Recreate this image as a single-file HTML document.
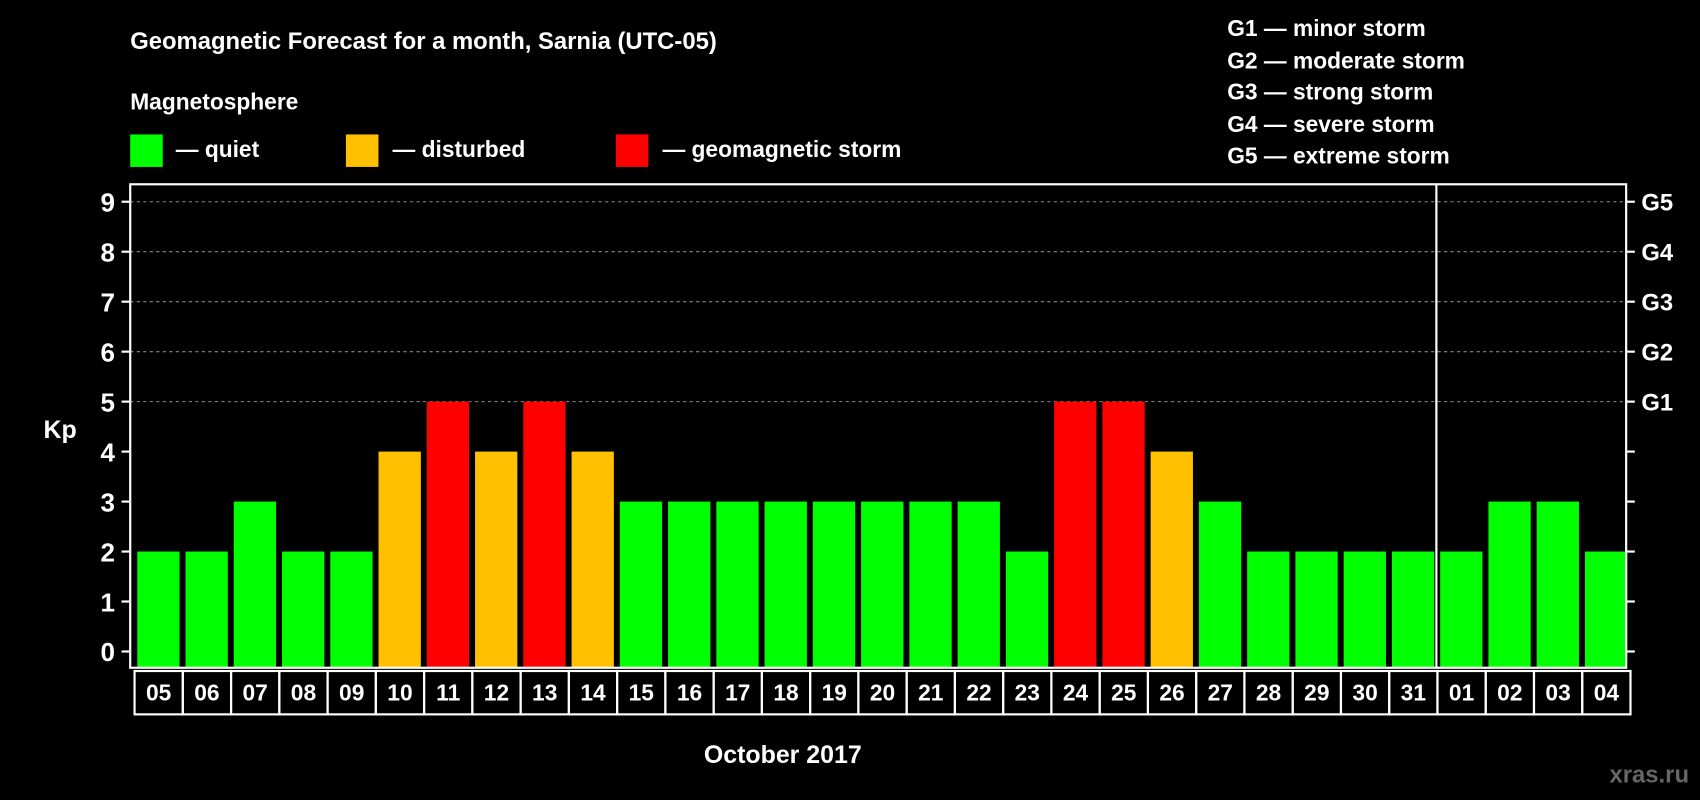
<!DOCTYPE html>
<html><head><meta charset="utf-8"><style>
html,body{margin:0;padding:0;background:#000;width:1700px;height:800px;overflow:hidden}
text{font-family:"Liberation Sans",Arial,sans-serif;font-weight:bold;fill:#fff}
</style></head><body>
<svg id="chart" width="1700" height="800" viewBox="0 0 1568 738" xmlns="http://www.w3.org/2000/svg">
<rect width="1568" height="738" fill="#000"/>
<text x="120" y="45" font-size="22">Geomagnetic Forecast for a month, Sarnia (UTC-05)</text>
<text x="120" y="101" font-size="21">Magnetosphere</text>
<g>
<rect x="120" y="124" width="30" height="30" fill="#00ff00"/>
<text x="162" y="145" font-size="21">— quiet</text>
<rect x="319" y="124" width="30" height="30" fill="#ffc000"/>
<text x="362" y="145" font-size="21">— disturbed</text>
<rect x="568" y="124" width="30" height="30" fill="#ff0000"/>
<text x="611" y="145" font-size="21">— geomagnetic storm</text>
</g>
<g font-size="21">
<text x="1132" y="33">G1 — minor storm</text>
<text x="1132" y="63">G2 — moderate storm</text>
<text x="1132" y="92">G3 — strong storm</text>
<text x="1132" y="122">G4 — severe storm</text>
<text x="1132" y="151">G5 — extreme storm</text>
</g>
<text x="40" y="404" font-size="23">Kp</text>
<text x="722" y="704" font-size="23" text-anchor="middle">October 2017</text>
<text x="1558" y="722" font-size="22" text-anchor="end" style="fill:#666">xras.ru</text>
<g id="grid"></g><g id="bars"></g><g id="axes"></g>
</svg>
<script>
const days=["05","06","07","08","09","10","11","12","13","14","15","16","17","18","19","20","21","22","23","24","25","26","27","28","29","30","31","01","02","03","04"];
const kp=[2,2,3,2,2,4,5,4,5,4,3,3,3,3,3,3,3,3,2,5,5,4,3,2,2,2,2,2,3,3,2];
const yTicks=[0,1,2,3,4,5,6,7,8,9];
const gLabels=["G1","G2","G3","G4","G5"];
const gLevels=[5,6,7,8,9];
const NS="http://www.w3.org/2000/svg";
const L=120,R=1500,T=170,B=616,Y0=601,UNIT=46.1;
const y=v=>Y0-v*UNIT;
const step=(R-L)/days.length;
const x=i=>L+i*step;
function mk(tag,attrs,parent){const e=document.createElementNS(NS,tag);for(const k in attrs)e.setAttribute(k,attrs[k]);parent.appendChild(e);return e;}
const grid=document.getElementById('grid'),bars=document.getElementById('bars'),axes=document.getElementById('axes');
gLevels.forEach((g,i)=>{
 const l=mk('line',{x1:L,x2:R,y1:y(g),y2:y(g),stroke:'#888','stroke-dasharray':'3,3','stroke-width':1},grid);
 
 
 const t=mk('text',{x:R+14,y:y(g)+8,'font-size':22},axes);t.textContent=gLabels[i];
 
 
});
function col(v){return v>=5?'#ff0000':(v>=4?'#ffc000':'#00ff00');}
kp.forEach((v,i)=>{
 const r=mk('rect',{x:x(i)+6.5,y:y(v),width:step-5.5,height:B-y(v),fill:col(v)},bars);
 
 
 const c=mk('rect',{x:x(i)+4,y:B+3,width:step,height:40,fill:'none',stroke:'#fff','stroke-width':2},axes);
 
 
 const t=mk('text',{x:x(i)+4+step/2,y:B+30,'font-size':21,'text-anchor':'middle'},axes);t.textContent=days[i];
 
 
});
yTicks.forEach(v=>{
 mk('line',{x1:L-8,x2:L,y1:y(v),y2:y(v),stroke:'#fff','stroke-width':2},axes);
 mk('line',{x1:R,x2:R+8,y1:y(v),y2:y(v),stroke:'#fff','stroke-width':2},axes);
 const t=mk('text',{x:L-14,y:y(v)+9,'font-size':24,'text-anchor':'end'},axes);t.textContent=v;
 
 
});
const fr=mk('rect',{x:L,y:T,width:R-L,height:B-T,fill:'none',stroke:'#fff','stroke-width':2},axes);


const mi=days.indexOf("01");
const ml=mk('line',{x1:x(mi)+3,x2:x(mi)+3,y1:T,y2:B,stroke:'#fff','stroke-width':2},axes);


</script>
</body></html>
